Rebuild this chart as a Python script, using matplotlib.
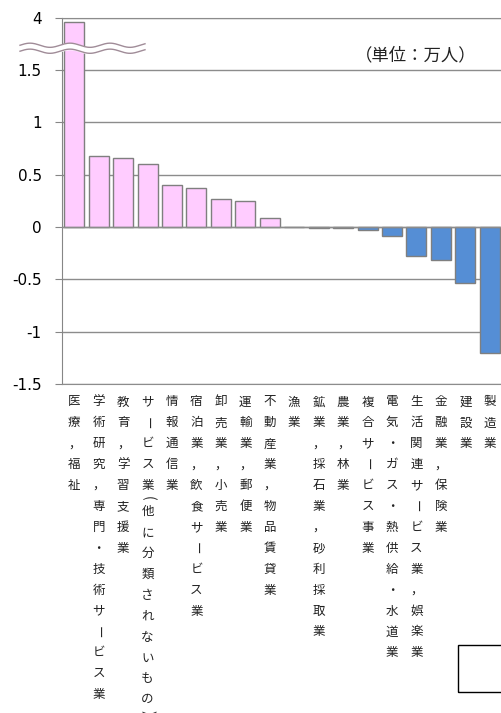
import numpy as np
import matplotlib
matplotlib.use("Agg")
import matplotlib.pyplot as plt
from matplotlib.patches import Rectangle
from matplotlib.transforms import blended_transform_factory, ScaledTranslation

plt.rcParams['font.family'] = ['Noto Sans CJK JP', 'DejaVu Sans']

# 産業別の増減（単位：万人）
industries = [
    "医療，福祉",
    "学術研究，専門・技術サービス業",
    "教育，学習支援業",
    "サービス業（他に分類されないもの）",
    "情報通信業",
    "宿泊業，飲食サービス業",
    "卸売業，小売業",
    "運輸業，郵便業",
    "不動産業，物品賃貸業",
    "漁業",
    "鉱業，採石業，砂利採取業",
    "農業，林業",
    "複合サービス事業",
    "電気・ガス・熱供給・水道業",
    "生活関連サービス業，娯楽業",
    "金融業，保険業",
    "建設業",
    "製造業",
]
changes = [3.96, 0.68, 0.66, 0.60, 0.40, 0.37, 0.27, 0.25, 0.09, 0.0,
           -0.01, -0.01, -0.03, -0.09, -0.28, -0.32, -0.54, -1.20]

ytick_vals = [-1.5, -1, -0.5, 0, 0.5, 1, 1.5, 2]
ytick_text = ["-1.5", "-1", "-0.5", "0", "0.5", "1", "1.5", "4"]
break_top = 4   # 軸の一番上の目盛りは 4 を表す（波線で省略）


def shown(v):
    # 波線より上の値は省略軸に合わせる
    return 2 - (break_top - v) if v > 1.75 else v


fig = plt.figure(figsize=(5.02, 7.13), dpi=100)
ax = fig.add_axes([62/502, 1 - 384/713, 440/502, 366.5/713])

x = np.arange(len(industries))
h = [shown(v) for v in changes]
cols = ['#FFCCFF' if v >= 0 else '#558ED5' for v in changes]
ax.bar(x, h, width=0.82, color=cols, edgecolor='#7F7F7F', linewidth=1.0, zorder=3)

ax.set_xlim(-0.5, len(industries) - 0.5)
ax.set_ylim(-1.5, 2)
ax.set_yticks(ytick_vals)
ax.set_yticklabels(ytick_text, family='DejaVu Sans', fontsize=11)
ax.tick_params(axis='y', length=5, color='#868686', pad=9.5)
ax.tick_params(axis='x', length=0, labelbottom=False)
ax.grid(axis='y', color='#8C8C8C', linewidth=1.0, zorder=0)
for s in ['top', 'bottom']:
    ax.spines[s].set_color('#8C8C8C')
ax.spines['left'].set_color('#868686')
ax.spines['right'].set_visible(False)
ax.axhline(0, color='#8C8C8C', linewidth=1.0, zorder=4)

# 縦書きの項目名（括弧と長音は90度回転）
tr = blended_transform_factory(ax.transData, ax.transAxes)
rot_chars = {'ー': -90, '（': -90, '）': -90}
for i, name in enumerate(industries):
    row = 0.0
    for ch in name:
        size = 9
        shown_ch = ch
        if ch in '（）':
            shown_ch = '(' if ch == '（' else ')'
            pos = row - 0.4
            size = 10
            row += 0.25
        else:
            pos = row
            row += 1
        off = ScaledTranslation(0, -(18 + 20.9 * pos) / 100, fig.dpi_scale_trans)
        ax.text(i, 0, shown_ch, transform=tr + off, ha='center', va='center',
                fontsize=size, color='#222222', rotation=rot_chars.get(ch, 0),
                clip_on=False)

# 省略を示す波線
tw = blended_transform_factory(fig.transFigure, ax.transData)
xs = np.linspace(20/502, 145/502, 200)
wave = 0.02 * np.sin((xs * 502 - 20) / 40 * 2 * np.pi)
ax.fill_between(xs, 1.735 + wave, 1.678 + wave, transform=tw, color='white',
                zorder=6, clip_on=False)
ax.plot(xs, 1.735 + wave, transform=tw, color='#A08C98', lw=1.0, zorder=7, clip_on=False)
ax.plot(xs, 1.678 + wave, transform=tw, color='#A08C98', lw=1.0, zorder=7, clip_on=False)

ax.text(0.805, 0.898, "（単位：万人）", transform=ax.transAxes, ha='center',
        va='center', fontsize=12.5, color='#222222')

fig.patches.append(Rectangle((458/502, 1 - 692/713), 0.1, 47/713,
                             transform=fig.transFigure, fill=False,
                             edgecolor='black', linewidth=1.0))

fig.savefig("out.png", dpi=100)
